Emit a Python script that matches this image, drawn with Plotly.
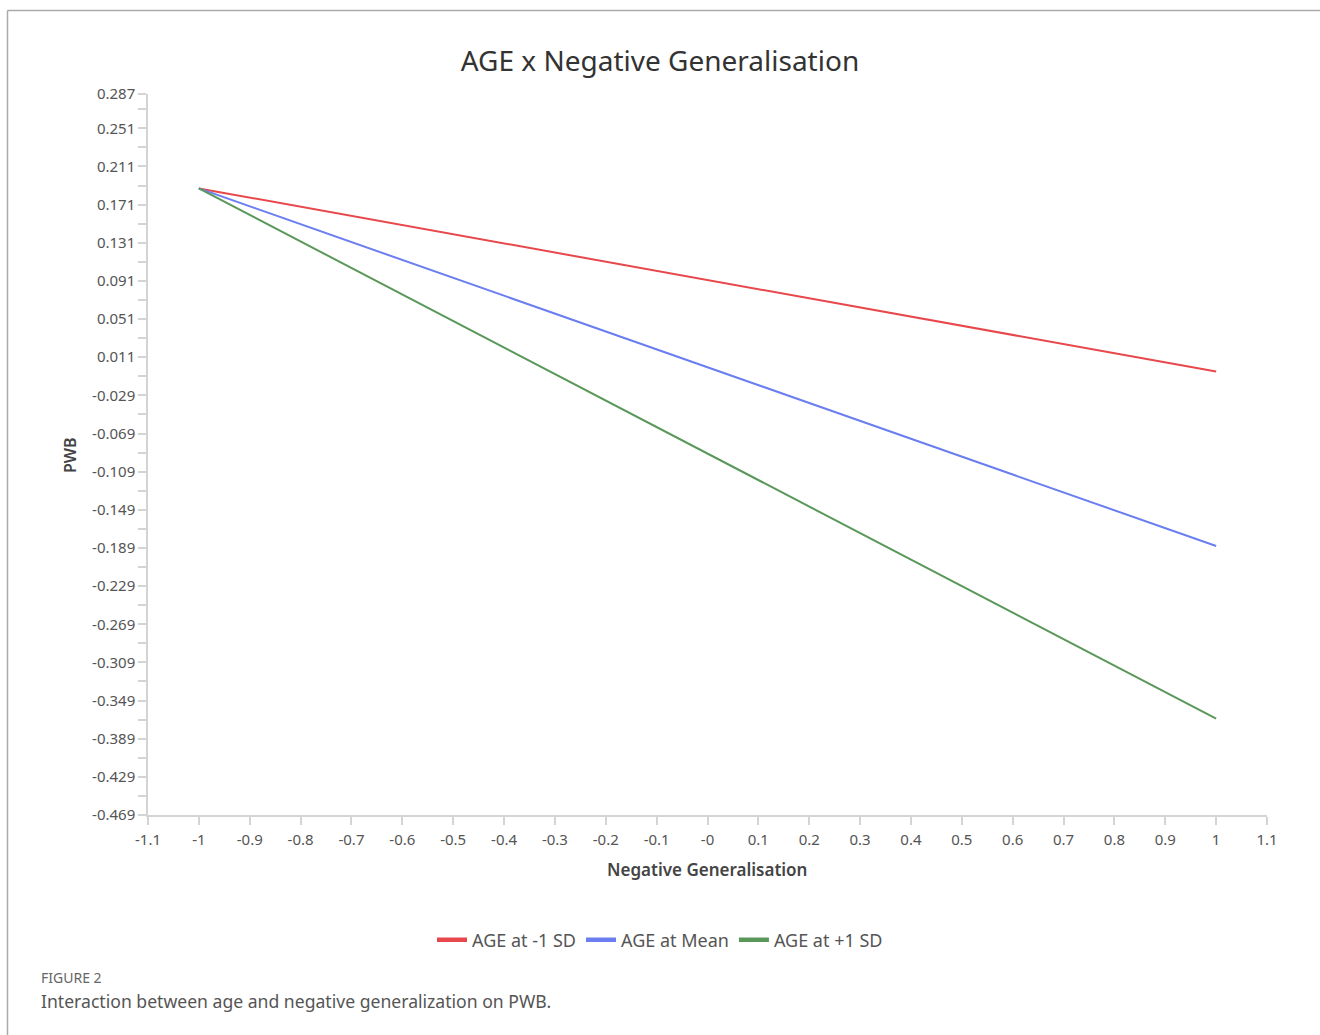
import plotly.graph_objects as go

# ---- data ----
neg_gen = [-1, 1]
age_minus_sd = [0.188, -0.004]
age_mean = [0.188, -0.187]
age_plus_sd = [0.188, -0.368]
series_names = ["AGE at -1 SD", "AGE at Mean", "AGE at +1 SD"]
series_colors = ["#e8484b", "#6b7ef0", "#5a985a"]

y_ticks = [0.287, 0.251, 0.211, 0.171, 0.131, 0.091, 0.051, 0.011, -0.029, -0.069,
           -0.109, -0.149, -0.189, -0.229, -0.269, -0.309, -0.349, -0.389, -0.429, -0.469]
y_minor = [0.271, 0.231, 0.191, 0.151, 0.111, 0.071, 0.031, -0.009, -0.049, -0.089,
           -0.129, -0.169, -0.209, -0.249, -0.289, -0.329, -0.369, -0.409, -0.449]
x_ticks = [-1.1, -1.0, -0.9, -0.8, -0.7, -0.6, -0.5, -0.4, -0.3, -0.2, -0.1, 0.0,
           0.1, 0.2, 0.3, 0.4, 0.5, 0.6, 0.7, 0.8, 0.9, 1.0, 1.1]
x_tick_text = ["-1.1", "-1", "-0.9", "-0.8", "-0.7", "-0.6", "-0.5", "-0.4", "-0.3", "-0.2",
               "-0.1", "-0", "0.1", "0.2", "0.3", "0.4", "0.5", "0.6", "0.7", "0.8", "0.9",
               "1", "1.1"]

FONT = "Noto Sans"
W, H = 1320, 1035
L, R, T, B = 148, 1267, 94, 815


def px(x):
    return (x - L) / (R - L)


def py(y):
    return (B - y) / (B - T)


fig = go.Figure()
for ys, name, col in zip([age_minus_sd, age_mean, age_plus_sd], series_names, series_colors):
    fig.add_trace(go.Scatter(x=neg_gen, y=ys, mode="lines", name=name, showlegend=False,
                             legendgroup=name, line=dict(color=col, width=2)))
# legend entries with short thick swatches
for name, col in zip(series_names, series_colors):
    fig.add_trace(go.Scatter(x=[None], y=[None], mode="lines", name=name, legendgroup=name,
                             line=dict(color=col, width=4.5), showlegend=True))

axis_common = dict(showgrid=False, zeroline=False, showline=True, linecolor="#d4d4d4",
                   linewidth=1.5, ticks="outside", ticklen=8, tickcolor="#d4d4d4",
                   tickwidth=1.5, tickfont=dict(family=FONT, size=15, color="#555555"))

fig.update_xaxes(range=[-1.1, 1.1], tickmode="array", tickvals=x_ticks,
                 ticktext=x_tick_text, ticklabelstandoff=2, **axis_common)
fig.update_yaxes(range=[-0.469, 0.287], tickmode="array", tickvals=y_ticks,
                 ticktext=[f"{v:.3f}" for v in y_ticks],
                 minor=dict(tickmode="array", tickvals=y_minor, ticks="outside",
                            ticklen=8, tickcolor="#d4d4d4", tickwidth=1.5),
                 **axis_common)

fig.update_layout(
    width=W, height=H,
    margin=dict(l=L, r=W - R, t=T, b=H - B, pad=0),
    paper_bgcolor="white", plot_bgcolor="white",
    title=dict(text="AGE x Negative Generalisation", x=660 / W, xanchor="center",
               y=1 - 61 / H, yanchor="middle", xref="container", yref="container",
               font=dict(family=FONT, size=28, color="#333333")),
    legend=dict(orientation="h", x=px(660), xanchor="center", y=py(940), yanchor="middle",
                font=dict(family=FONT, size=18, color="#555555"), itemwidth=30,
                tracegroupgap=0),
    showlegend=True,
)

# axis titles
fig.add_annotation(text="Negative Generalisation", x=px(707), y=py(869), xref="paper",
                   yref="paper", showarrow=False, xanchor="center", yanchor="middle",
                   font=dict(family=FONT, size=17, color="#444444", weight=600))
fig.add_annotation(text="PWB", x=px(70), y=py(455), xref="paper", yref="paper",
                   showarrow=False, textangle=-90, xanchor="center", yanchor="middle",
                   font=dict(family=FONT, size=16, color="#444444", weight=600))

# caption
fig.add_annotation(text="FIGURE 2", x=px(39), y=py(978), xref="paper", yref="paper",
                   xanchor="left", yanchor="middle", showarrow=False,
                   font=dict(family=FONT, size=14, color="#666666"))
fig.add_annotation(text="Interaction between age and negative generalization on PWB.",
                   x=px(39), y=py(1001), xref="paper", yref="paper", xanchor="left",
                   yanchor="middle", showarrow=False,
                   font=dict(family=FONT, size=17.6, color="#555555"))

# frame (top and left borders)
fig.add_shape(type="line", xref="paper", yref="paper", x0=px(7.5), x1=px(1320),
              y0=py(10.5), y1=py(10.5), line=dict(color="#aaaaaa", width=1.5))
fig.add_shape(type="line", xref="paper", yref="paper", x0=px(7.5), x1=px(7.5),
              y0=py(10.5), y1=py(1035), line=dict(color="#aaaaaa", width=1.5))

fig.write_html("out.html")
